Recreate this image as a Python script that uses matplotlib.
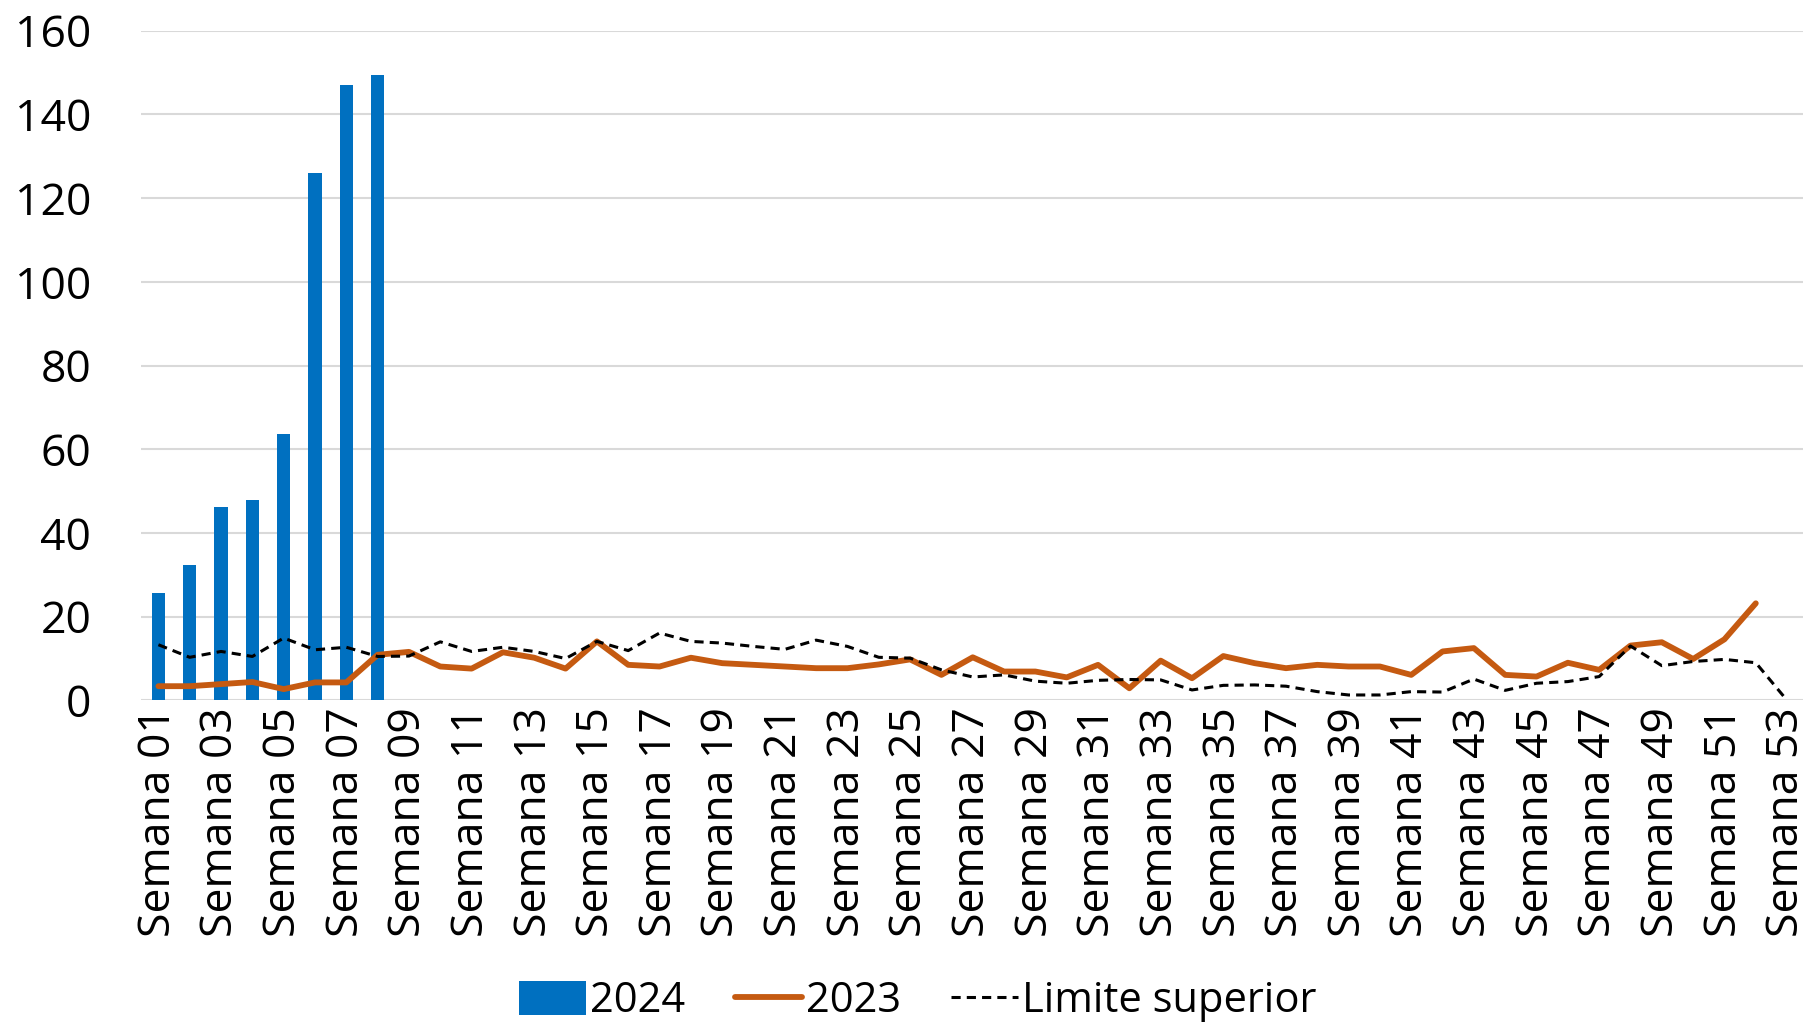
import numpy as np
import matplotlib
matplotlib.use("Agg")
import matplotlib.pyplot as plt

plt.rcParams["font.family"] = ["Open Sans", "DejaVu Sans"]

# 데이터: 주차별 값
semanas = [f"Semana {i:02d}" for i in range(1, 54)]
casos_2024 = [25.6, 32.4, 46.1, 48.0, 63.7, 126.0, 147.1, 149.4]
casos_2023 = [3.4, 3.4, 3.9, 4.4, 2.7, 4.3, 4.3, 10.9, 11.6, 8.1,
              7.6, 11.5, 10.2, 7.6, 14.1, 8.5, 8.1, 10.2, 8.9, 8.5,
              8.1, 7.7, 7.7, 8.6, 9.8, 6.1, 10.3, 6.9, 6.9, 5.5,
              8.5, 2.9, 9.5, 5.3, 10.6, 8.9, 7.7, 8.5, 8.1, 8.1,
              6.1, 11.7, 12.5, 6.1, 5.7, 9.0, 7.3, 13.1, 13.9, 9.9,
              14.6, 23.2]
limite_sup = [13.3, 10.3, 11.7, 10.5, 14.9, 12.1, 12.7, 10.5, 10.6, 14.0,
              11.7, 12.7, 11.7, 10.0, 14.1, 11.9, 16.1, 14.1, 13.7, 12.9,
              12.2, 14.4, 12.9, 10.3, 10.1, 7.3, 5.6, 6.1, 4.6, 4.1,
              4.8, 5.0, 4.9, 2.5, 3.6, 3.7, 3.4, 2.1, 1.3, 1.3,
              2.1, 2.0, 5.1, 2.4, 4.1, 4.5, 5.7, 13.0, 8.3, 9.3,
              9.8, 9.0, 0.0]
y_ticks = [0, 20, 40, 60, 80, 100, 120, 140, 160]

fig = plt.figure(figsize=(18.10, 10.24), dpi=100)
ax = fig.add_axes([0.078, 0.316, 0.918, 0.654])

x = np.arange(len(semanas))
h_bar = ax.bar(x[:len(casos_2024)], casos_2024, width=0.42, color="#0070C0", label="2024", zorder=2)
h_23, = ax.plot(x[:len(casos_2023)], casos_2023, color="#C55A11", lw=4.2, label="2023", zorder=3,
                solid_capstyle="round", solid_joinstyle="round")
h_lim, = ax.plot(x[:len(limite_sup)], limite_sup, color="black", lw=2.2, ls=(0, (3, 2)),
                 label="Limite superior", zorder=4)

ax.set_ylim(0, 160)
ax.set_yticks(y_ticks)
ax.set_xlim(-0.55, 52.5)
ax.set_xticks(x[::2])
ax.set_xticklabels(semanas[::2], rotation=90)
ax.tick_params(axis="both", length=0, labelsize=32)
ax.tick_params(axis="x", pad=5)
ax.tick_params(axis="y", pad=36)
ax.yaxis.grid(True, color="#d9d9d9", lw=1.5, zorder=0)
ax.set_axisbelow(True)
for s in ax.spines.values():
    s.set_visible(False)

fig.legend([h_bar, h_23, h_lim], ["2024", "2023", "Limite superior"],
           loc="center", bbox_to_anchor=(0.507, 0.022), ncol=3, frameon=False,
           fontsize=30, handlelength=1.6, handleheight=0.9, handletextpad=0.1, columnspacing=1.2)

fig.savefig("out.png", dpi=100)
